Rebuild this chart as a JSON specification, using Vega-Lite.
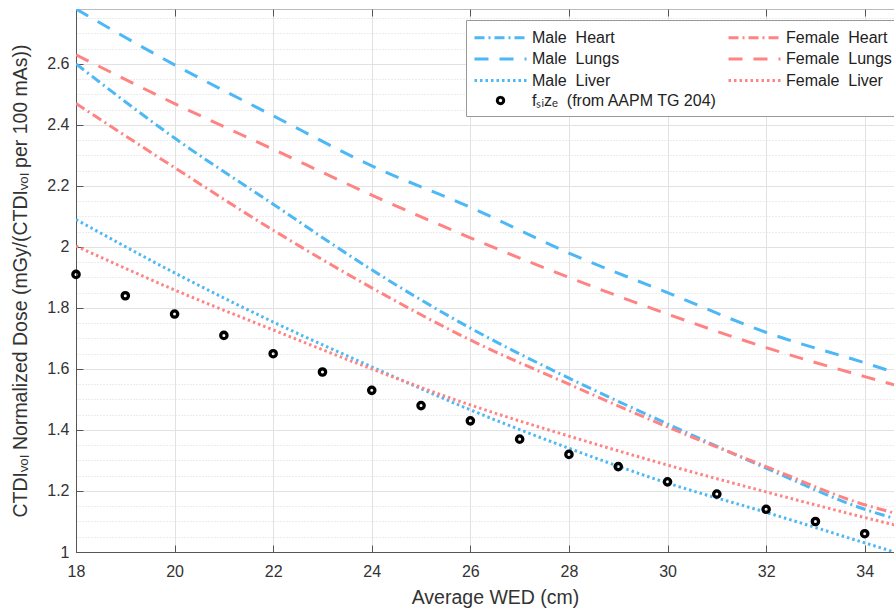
{
  "$schema": "https://vega.github.io/schema/vega-lite/v6.json",
  "width": 838,
  "height": 543,
  "autosize": {"type": "none"},
  "padding": {"left": 76, "top": 9, "right": 0, "bottom": 57},
  "background": "white",
  "config": {
    "font": "Liberation Sans",
    "view": {"stroke": "#bbbbbb", "strokeWidth": 1},
    "axis": {
      "labelFont": "Liberation Sans",
      "titleFont": "Liberation Sans",
      "labelFontSize": 16,
      "titleFontSize": 19.5,
      "titleFontWeight": "normal",
      "labelColor": "#333333",
      "titleColor": "#333333",
      "domainColor": "#555555",
      "tickColor": "#555555",
      "gridColor": "#dddddd",
      "labelFlush": false
    }
  },
  "datasets": {
    "lines": [
      {"wed": 18, "dose": 2.6, "series": "Male\u00a0\u00a0Heart"},
      {"wed": 20, "dose": 2.357, "series": "Male\u00a0\u00a0Heart"},
      {"wed": 22, "dose": 2.14, "series": "Male\u00a0\u00a0Heart"},
      {"wed": 24, "dose": 1.925, "series": "Male\u00a0\u00a0Heart"},
      {"wed": 26, "dose": 1.734, "series": "Male\u00a0\u00a0Heart"},
      {"wed": 28, "dose": 1.57, "series": "Male\u00a0\u00a0Heart"},
      {"wed": 30, "dose": 1.42, "series": "Male\u00a0\u00a0Heart"},
      {"wed": 32, "dose": 1.275, "series": "Male\u00a0\u00a0Heart"},
      {"wed": 34, "dose": 1.14, "series": "Male\u00a0\u00a0Heart"},
      {"wed": 34.6, "dose": 1.11, "series": "Male\u00a0\u00a0Heart"},
      {"wed": 18, "dose": 2.47, "series": "Female\u00a0\u00a0Heart"},
      {"wed": 20, "dose": 2.26, "series": "Female\u00a0\u00a0Heart"},
      {"wed": 22, "dose": 2.055, "series": "Female\u00a0\u00a0Heart"},
      {"wed": 24, "dose": 1.866, "series": "Female\u00a0\u00a0Heart"},
      {"wed": 26, "dose": 1.695, "series": "Female\u00a0\u00a0Heart"},
      {"wed": 28, "dose": 1.55, "series": "Female\u00a0\u00a0Heart"},
      {"wed": 30, "dose": 1.41, "series": "Female\u00a0\u00a0Heart"},
      {"wed": 32, "dose": 1.28, "series": "Female\u00a0\u00a0Heart"},
      {"wed": 34, "dose": 1.155, "series": "Female\u00a0\u00a0Heart"},
      {"wed": 34.6, "dose": 1.128, "series": "Female\u00a0\u00a0Heart"},
      {"wed": 18, "dose": 2.78, "series": "Male\u00a0\u00a0Lungs"},
      {"wed": 20, "dose": 2.597, "series": "Male\u00a0\u00a0Lungs"},
      {"wed": 22, "dose": 2.43, "series": "Male\u00a0\u00a0Lungs"},
      {"wed": 24, "dose": 2.266, "series": "Male\u00a0\u00a0Lungs"},
      {"wed": 26, "dose": 2.13, "series": "Male\u00a0\u00a0Lungs"},
      {"wed": 28, "dose": 1.98, "series": "Male\u00a0\u00a0Lungs"},
      {"wed": 30, "dose": 1.85, "series": "Male\u00a0\u00a0Lungs"},
      {"wed": 32, "dose": 1.72, "series": "Male\u00a0\u00a0Lungs"},
      {"wed": 34, "dose": 1.62, "series": "Male\u00a0\u00a0Lungs"},
      {"wed": 34.6, "dose": 1.589, "series": "Male\u00a0\u00a0Lungs"},
      {"wed": 18, "dose": 2.63, "series": "Female\u00a0\u00a0Lungs"},
      {"wed": 20, "dose": 2.47, "series": "Female\u00a0\u00a0Lungs"},
      {"wed": 22, "dose": 2.32, "series": "Female\u00a0\u00a0Lungs"},
      {"wed": 24, "dose": 2.17, "series": "Female\u00a0\u00a0Lungs"},
      {"wed": 26, "dose": 2.03, "series": "Female\u00a0\u00a0Lungs"},
      {"wed": 28, "dose": 1.9, "series": "Female\u00a0\u00a0Lungs"},
      {"wed": 30, "dose": 1.78, "series": "Female\u00a0\u00a0Lungs"},
      {"wed": 32, "dose": 1.67, "series": "Female\u00a0\u00a0Lungs"},
      {"wed": 34, "dose": 1.575, "series": "Female\u00a0\u00a0Lungs"},
      {"wed": 34.6, "dose": 1.548, "series": "Female\u00a0\u00a0Lungs"},
      {"wed": 18, "dose": 2.09, "series": "Male\u00a0\u00a0Liver"},
      {"wed": 20, "dose": 1.915, "series": "Male\u00a0\u00a0Liver"},
      {"wed": 22, "dose": 1.754, "series": "Male\u00a0\u00a0Liver"},
      {"wed": 24, "dose": 1.607, "series": "Male\u00a0\u00a0Liver"},
      {"wed": 26, "dose": 1.466, "series": "Male\u00a0\u00a0Liver"},
      {"wed": 28, "dose": 1.34, "series": "Male\u00a0\u00a0Liver"},
      {"wed": 30, "dose": 1.226, "series": "Male\u00a0\u00a0Liver"},
      {"wed": 32, "dose": 1.13, "series": "Male\u00a0\u00a0Liver"},
      {"wed": 34, "dose": 1.03, "series": "Male\u00a0\u00a0Liver"},
      {"wed": 34.6, "dose": 1.0, "series": "Male\u00a0\u00a0Liver"},
      {"wed": 18, "dose": 2.003, "series": "Female\u00a0\u00a0Liver"},
      {"wed": 20, "dose": 1.859, "series": "Female\u00a0\u00a0Liver"},
      {"wed": 22, "dose": 1.728, "series": "Female\u00a0\u00a0Liver"},
      {"wed": 24, "dose": 1.6, "series": "Female\u00a0\u00a0Liver"},
      {"wed": 26, "dose": 1.482, "series": "Female\u00a0\u00a0Liver"},
      {"wed": 28, "dose": 1.38, "series": "Female\u00a0\u00a0Liver"},
      {"wed": 30, "dose": 1.285, "series": "Female\u00a0\u00a0Liver"},
      {"wed": 32, "dose": 1.197, "series": "Female\u00a0\u00a0Liver"},
      {"wed": 34, "dose": 1.113, "series": "Female\u00a0\u00a0Liver"},
      {"wed": 34.6, "dose": 1.089, "series": "Female\u00a0\u00a0Liver"}
    ],
    "fsize": [
      {"wed": 18, "dose": 1.91, "series": "f\u209b\u1d62z\u2091\u00a0\u00a0(from AAPM TG 204)"},
      {"wed": 19, "dose": 1.84, "series": "f\u209b\u1d62z\u2091\u00a0\u00a0(from AAPM TG 204)"},
      {"wed": 20, "dose": 1.78, "series": "f\u209b\u1d62z\u2091\u00a0\u00a0(from AAPM TG 204)"},
      {"wed": 21, "dose": 1.71, "series": "f\u209b\u1d62z\u2091\u00a0\u00a0(from AAPM TG 204)"},
      {"wed": 22, "dose": 1.65, "series": "f\u209b\u1d62z\u2091\u00a0\u00a0(from AAPM TG 204)"},
      {"wed": 23, "dose": 1.59, "series": "f\u209b\u1d62z\u2091\u00a0\u00a0(from AAPM TG 204)"},
      {"wed": 24, "dose": 1.53, "series": "f\u209b\u1d62z\u2091\u00a0\u00a0(from AAPM TG 204)"},
      {"wed": 25, "dose": 1.48, "series": "f\u209b\u1d62z\u2091\u00a0\u00a0(from AAPM TG 204)"},
      {"wed": 26, "dose": 1.43, "series": "f\u209b\u1d62z\u2091\u00a0\u00a0(from AAPM TG 204)"},
      {"wed": 27, "dose": 1.37, "series": "f\u209b\u1d62z\u2091\u00a0\u00a0(from AAPM TG 204)"},
      {"wed": 28, "dose": 1.32, "series": "f\u209b\u1d62z\u2091\u00a0\u00a0(from AAPM TG 204)"},
      {"wed": 29, "dose": 1.28, "series": "f\u209b\u1d62z\u2091\u00a0\u00a0(from AAPM TG 204)"},
      {"wed": 30, "dose": 1.23, "series": "f\u209b\u1d62z\u2091\u00a0\u00a0(from AAPM TG 204)"},
      {"wed": 31, "dose": 1.19, "series": "f\u209b\u1d62z\u2091\u00a0\u00a0(from AAPM TG 204)"},
      {"wed": 32, "dose": 1.14, "series": "f\u209b\u1d62z\u2091\u00a0\u00a0(from AAPM TG 204)"},
      {"wed": 33, "dose": 1.1, "series": "f\u209b\u1d62z\u2091\u00a0\u00a0(from AAPM TG 204)"},
      {"wed": 34, "dose": 1.06, "series": "f\u209b\u1d62z\u2091\u00a0\u00a0(from AAPM TG 204)"}
    ]
  },
  "resolve": {"axis": {"y": "independent", "x": "independent"}},
  "layer": [
    {
      "data": {"name": "lines"},
      "mark": {"type": "line", "strokeWidth": 3, "interpolate": "monotone", "clip": true},
      "encoding": {
        "x": {
          "field": "wed", "type": "quantitative",
          "scale": {"domain": [18, 35], "nice": false, "zero": false},
          "axis": {"title": "Average WED (cm)", "values": [18, 20, 22, 24, 26, 28, 30, 32, 34], "tickSize": -7, "labelPadding": 18, "titlePadding": 9, "gridColor": "#e2e2e2"}
        },
        "y": {
          "field": "dose", "type": "quantitative",
          "scale": {"domain": [1, 2.78], "nice": false, "zero": false},
          "axis": {"title": "CTDI\u1d65\u2092\u2097 Normalized Dose (mGy/(CTDI\u1d65\u2092\u2097 per 100 mAs))", "values": [1, 1.2, 1.4, 1.6, 1.8, 2, 2.2, 2.4, 2.6], "format": "~g", "tickSize": -7, "labelPadding": 14, "titlePadding": 16, "gridColor": "#e2e2e2"}
        },
        "color": {
          "field": "series", "type": "nominal",
          "scale": {
            "domain": ["Male\u00a0\u00a0Heart", "Female\u00a0\u00a0Heart", "Male\u00a0\u00a0Lungs", "Female\u00a0\u00a0Lungs", "Male\u00a0\u00a0Liver", "Female\u00a0\u00a0Liver", "f\u209b\u1d62z\u2091\u00a0\u00a0(from AAPM TG 204)"],
            "range": ["#4db8f6", "#ff8383", "#4db8f6", "#ff8383", "#4db8f6", "#ff8383", "#000000"]
          },
          "legend": {
            "title": null, "orient": "none", "legendX": 390, "legendY": 11, "columns": 2,
            "direction": "horizontal",
            "columnPadding": 4, "rowPadding": 1.5, "labelFontSize": 16, "labelColor": "#222222",
            "labelFont": "Liberation Sans", "labelLimit": 400,
            "strokeColor": "#999999", "fillColor": "white", "padding": 6,
            "symbolStrokeWidth": 3, "symbolOffset": 17, "labelOffset": 20
          }
        },
        "strokeDash": {
          "field": "series", "type": "nominal",
          "scale": {
            "domain": ["Male\u00a0\u00a0Heart", "Female\u00a0\u00a0Heart", "Male\u00a0\u00a0Lungs", "Female\u00a0\u00a0Lungs", "Male\u00a0\u00a0Liver", "Female\u00a0\u00a0Liver", "f\u209b\u1d62z\u2091\u00a0\u00a0(from AAPM TG 204)"],
            "range": [[10, 4, 2, 4], [10, 4, 2, 4], [14, 11], [14, 11], [2.5, 3], [2.5, 3], [1, 0]]
          }
        }
      }
    },
    {
      "data": {"name": "fsize"},
      "mark": {"type": "point", "filled": false, "strokeWidth": 3.3, "opacity": 1},
      "encoding": {
        "x": {
          "field": "wed", "type": "quantitative",
          "axis": {"orient": "top", "title": null, "labels": false, "grid": false, "domain": false, "values": [18, 20, 22, 24, 26, 28, 30, 32, 34], "tickSize": -7}
        },
        "y": {
          "field": "dose", "type": "quantitative",
          "axis": {"orient": "left", "title": null, "labels": false, "ticks": false, "domain": false, "grid": true, "gridDash": [1, 2], "gridColor": "#d8d8d8", "values": [1.05, 1.1, 1.15, 1.25, 1.3, 1.35, 1.45, 1.5, 1.55, 1.65, 1.7, 1.75, 1.85, 1.9, 1.95, 2.05, 2.1, 2.15, 2.25, 2.3, 2.35, 2.45, 2.5, 2.55, 2.65, 2.7, 2.75]}
        },
        "color": {"field": "series", "type": "nominal"},
        "shape": {
          "field": "series", "type": "nominal",
          "scale": {
            "domain": ["Male\u00a0\u00a0Heart", "Female\u00a0\u00a0Heart", "Male\u00a0\u00a0Lungs", "Female\u00a0\u00a0Lungs", "Male\u00a0\u00a0Liver", "Female\u00a0\u00a0Liver", "f\u209b\u1d62z\u2091\u00a0\u00a0(from AAPM TG 204)"],
            "range": ["M-2.6,0H2.6", "M-2.6,0H2.6", "M-2.6,0H2.6", "M-2.6,0H2.6", "M-2.6,0H2.6", "M-2.6,0H2.6", "circle"]
          }
        },
        "size": {
          "field": "series", "type": "nominal",
          "scale": {
            "type": "ordinal",
            "domain": ["Male\u00a0\u00a0Heart", "Female\u00a0\u00a0Heart", "Male\u00a0\u00a0Lungs", "Female\u00a0\u00a0Lungs", "Male\u00a0\u00a0Liver", "Female\u00a0\u00a0Liver", "f\u209b\u1d62z\u2091\u00a0\u00a0(from AAPM TG 204)"],
            "range": [400, 400, 400, 400, 400, 400, 40]
          }
        }
      }
    }
  ]
}
